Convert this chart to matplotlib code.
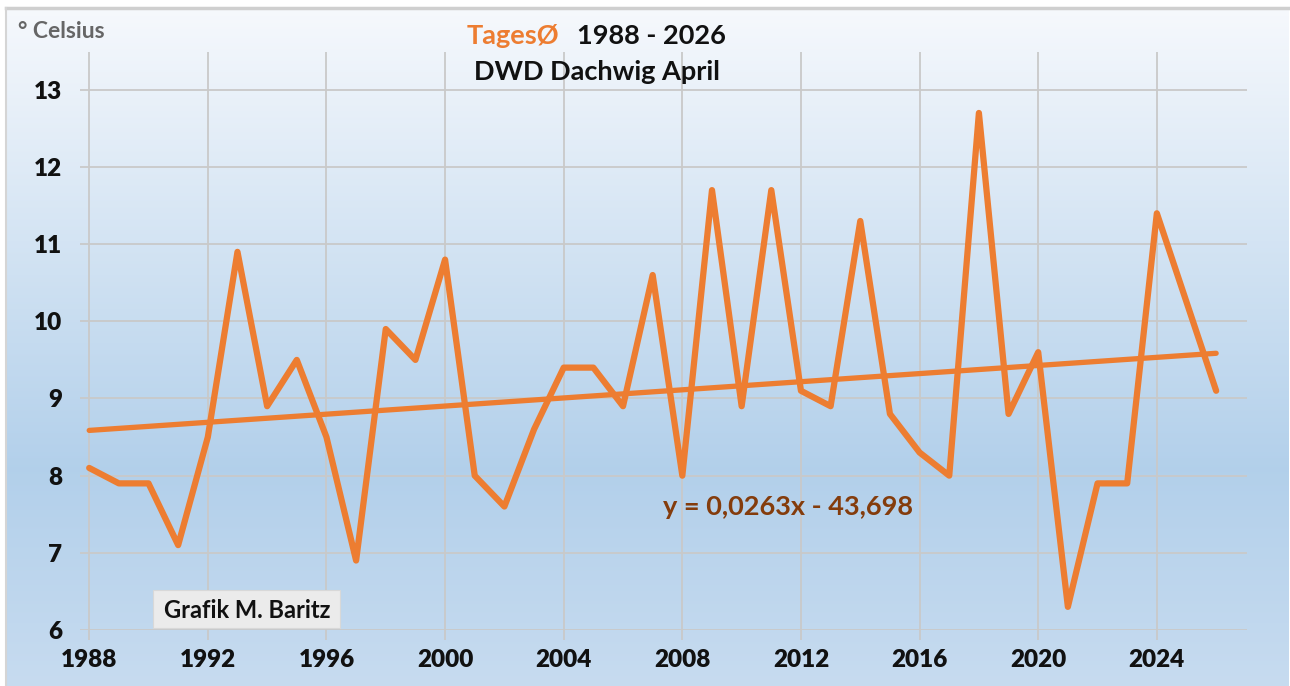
import numpy as np
import matplotlib
matplotlib.use("Agg")
import matplotlib.pyplot as plt
from matplotlib.patches import Rectangle

years = list(range(1988, 2027))
temps = [8.1, 7.9, 7.9, 7.1, 8.5, 10.9, 8.9, 9.5, 8.5, 6.9,
         9.9, 9.5, 10.8, 8.0, 7.6, 8.6, 9.4, 9.4, 8.9, 10.6,
         8.0, 11.7, 8.9, 11.7, 9.1, 8.9, 11.3, 8.8, 8.3, 8.0,
         12.7, 8.8, 9.6, 6.3, 7.9, 7.9, 11.4, 10.25, 9.1]
trend_slope = 0.0263
trend_intercept = -43.698
x_ticks = list(range(1988, 2027, 4))
y_ticks = [6, 7, 8, 9, 10, 11, 12, 13]
equation_label = "y = 0,0263x - 43,698"

plt.rcParams['font.family'] = ['Lato', 'DejaVu Sans']

W, H = 1290, 686
fig = plt.figure(figsize=(W / 100, H / 100), dpi=100)
fig.patch.set_facecolor('white')

# gradient background panel
px0, px1, py0 = 6, 1289, 8
bg = fig.add_axes([px0 / W, 0, (px1 - px0) / W, (H - py0) / H])
bg.set_axis_off()
stops = [0.0, 0.68, 1.0]
cols = np.array([[0.965, 0.975, 0.99], [0.70, 0.815, 0.92], [0.78, 0.86, 0.94]])
t = np.linspace(0, 1, 512)
grad = np.stack([np.interp(t, stops, cols[:, k]) for k in range(3)], axis=1)
bg.imshow(grad[:, None, :].repeat(2, axis=1), aspect='auto', extent=[0, 1, 0, 1])
bg.set_xlim(0, 1); bg.set_ylim(0, 1)
fig.add_artist(plt.Line2D([px0 / W, px1 / W], [1 - py0 / H, 1 - py0 / H], color='#cfcfcf', lw=2.5))
fig.add_artist(plt.Line2D([px0 / W, px0 / W], [0, 1 - py0 / H], color='#d5d5d5', lw=1.5))

ax = fig.add_axes([80 / W, 1 - 630 / H, (1247 - 80) / W, (630 - 52) / H])
ax.patch.set_alpha(0)
orange = '#ED7D31'
ax.plot(years, temps, color=orange, lw=4.5, solid_capstyle='round', solid_joinstyle='round', zorder=3)
tx = np.array([years[0], years[-1]])
ax.plot(tx, trend_slope * tx + trend_intercept, color=orange, lw=3.8, solid_capstyle='round', zorder=3)

ax.set_xlim(1987.69, 2027.04)
ax.set_ylim(6, 13.49)
ax.set_xticks(x_ticks)
ax.set_yticks(y_ticks)
ax.grid(True, color='#c9c9c9', lw=1.3, zorder=0)
for s in ax.spines.values():
    s.set_visible(False)
ax.tick_params(axis='x', direction='out', length=7, width=1.3, color='#c9c9c9', pad=7,
               labelsize=17.5, labelcolor='#111111')
ax.tick_params(axis='y', length=0, pad=13, labelsize=17.5, labelcolor='#111111')
for lab in ax.get_xticklabels() + ax.get_yticklabels():
    lab.set_fontweight('heavy')

ax.text(2007.35, 7.59, equation_label, color='#843C0C', fontsize=19.5, fontweight='bold',
        ha='left', va='center', zorder=4)

# titles
fig.text(467 / W, 1 - 36 / H, "TagesØ", color=orange, fontsize=19.5, fontweight='bold',
         ha='left', va='center')
fig.text(726 / W, 1 - 36 / H, "1988 - 2026", color='#111111', fontsize=19.5, fontweight='bold',
         ha='right', va='center')
fig.text(597 / W, 1 - 72 / H, "DWD Dachwig April", color='#111111', fontsize=19.5, fontweight='bold',
         ha='center', va='center')
fig.text(18 / W, 1 - 31 / H, "° Celsius", color='#666666', fontsize=16.5, fontweight='bold',
         ha='left', va='center')

# credit box
fig.patches.append(Rectangle((153 / W, 1 - 628 / H), (340 - 153) / W, (628 - 590) / H,
                             transform=fig.transFigure, facecolor='#ebebeb', edgecolor='#d8d8d8',
                             lw=0.8, zorder=5))
fig.text(247 / W, 1 - 610 / H, "Grafik M. Baritz", color='#111111', fontsize=17, fontweight='bold',
         ha='center', va='center', zorder=6)

fig.savefig('out.png', dpi=100)
